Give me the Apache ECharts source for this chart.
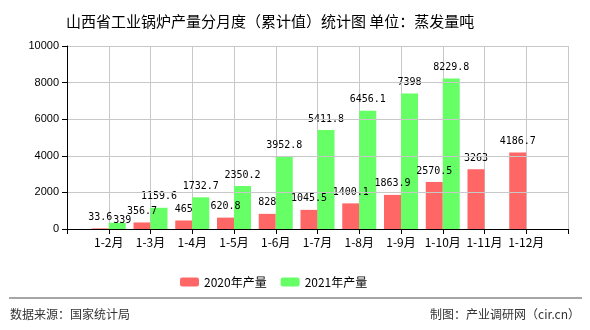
<!DOCTYPE html>
<html><head><meta charset="utf-8">
<script src="https://cdn.jsdelivr.net/npm/echarts@6/dist/echarts.min.js"></script>
<style>html,body{margin:0;padding:0;background:#fff}#c{width:590px;height:330px}</style>
</head><body><div id="c"></div>
<script>
var categories = ['1-2月','1-3月','1-4月','1-5月','1-6月','1-7月','1-8月','1-9月','1-10月','1-11月','1-12月'];
var values2020 = [33.6, 356.7, 465, 620.8, 828, 1045.5, 1400.1, 1863.9, 2570.5, 3263, 4186.7];
var values2021 = [339, 1159.6, 1732.7, 2350.2, 3952.8, 5411.8, 6456.1, 7398, 8229.8, null, null];
var yTicks = [0, 2000, 4000, 6000, 8000, 10000];
var seriesNames = ['2020年产量', '2021年产量'];

var axisData = [''].concat(categories, ['']);
function pad(arr, shiftIdx){
  var out = arr.map(function(v, i){
    if (v == null) return '-';
    if (i === shiftIdx) return {value:v, label:{offset:[5, 9]}};
    return v;
  });
  return ['-'].concat(out, ['-']);
}

var chart = echarts.init(document.getElementById('c'));
var labelStyle = {show:true, position:'top', distance:6, color:'#000', fontFamily:'DejaVu Sans Mono', fontSize:10};
chart.setOption({
  animation:false,
  backgroundColor:'#fff',
  title:{text:'山西省工业锅炉产量分月度（累计值）统计图 单位：蒸发量吨', left:61, top:9,
    textStyle:{fontFamily:'Noto Sans CJK SC', fontSize:15, fontWeight:'normal', color:'#000'}},
  legend:{left:175, top:271, itemWidth:19, itemHeight:9, itemGap:14,
    textStyle:{fontFamily:'Noto Sans CJK SC', fontSize:12, color:'#000'}, data:seriesNames},
  grid:{left:67, right:22, top:46, bottom:101},
  xAxis:[{type:'category', data:axisData, boundaryGap:false, z:6,
    axisLine:{lineStyle:{color:'#000', width:1}},
    axisTick:{show:true, interval:0, length:5, lineStyle:{color:'#000'}},
    axisLabel:{interval:0, margin:7, color:'#000', fontFamily:'Noto Sans CJK SC', fontSize:12},
    splitLine:{show:false}},
   {type:'value', min:0, max:axisData.length-1, interval:1, position:'top', z:0,
    axisLine:{show:false}, axisTick:{show:false}, axisLabel:{show:false},
    splitLine:{show:true, lineStyle:{color:'#c8c8c8', width:1}}}],
  yAxis:{type:'value', min:yTicks[0], max:yTicks[yTicks.length-1], interval:2000, z:6,
    axisLine:{show:true, lineStyle:{color:'#000'}},
    axisTick:{show:true, length:5, lineStyle:{color:'#000'}},
    axisLabel:{margin:8, color:'#000', fontFamily:'Liberation Sans', fontSize:11,
      formatter:function(v){return String(v);}},
    splitLine:{show:true, lineStyle:{color:'#c8c8c8'}}},
  series:[
    {name:seriesNames[0], type:'bar', xAxisIndex:0, z:4, data:pad(values2020, -1), barWidth:17, barGap:'0%',
      itemStyle:{color:'#ff6666'}, label:labelStyle},
    {name:seriesNames[1], type:'bar', xAxisIndex:0, z:4, data:pad(values2021, 0), barWidth:17, barGap:'0%',
      itemStyle:{color:'#66ff66'}, label:labelStyle}
  ],
  graphic:[
    {type:'line', shape:{x1:9, y1:298, x2:582, y2:298}, style:{stroke:'#888', lineWidth:1.5}},
    {type:'text', left:10, top:308, style:{text:'数据来源：国家统计局', fill:'#333', font:'12px "Noto Sans CJK SC"'}},
    {type:'text', right:10, top:308, style:{text:'制图：产业调研网（cir.cn）', fill:'#333', font:'12px "Noto Sans CJK SC"'}}
  ]
});
</script></body></html>
